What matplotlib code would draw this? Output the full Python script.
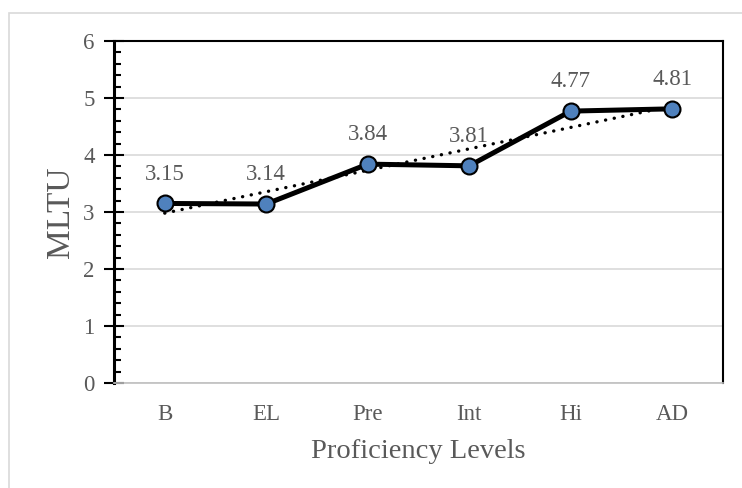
"""MLTU across proficiency levels, line chart with linear trendline."""
import matplotlib.pyplot as plt
import numpy as np
from matplotlib.patches import Rectangle

LEVELS = ["B", "EL", "Pre", "Int", "Hi", "AD"]
MLTU = [3.15, 3.14, 3.84, 3.81, 4.77, 4.81]

TEXT_GRAY = "#595959"
GRID_GRAY = "#d9d9d9"
MARKER_BLUE = "#4f81bd"

plt.rcParams["font.family"] = ["Liberation Serif", "DejaVu Serif"]

fig = plt.figure(figsize=(7.42, 4.88), dpi=100)
fig.patches.append(Rectangle((9 / 742, -0.1), 1.0, (488 - 13) / 488 + 0.1,
                             transform=fig.transFigure, fill=False,
                             edgecolor="#d9d9d9", linewidth=1.2))
ax = fig.add_axes([114 / 742, 105 / 488, 609 / 742, 342 / 488])

x = np.arange(len(LEVELS))
y = np.array(MLTU)

# linear trendline (least squares), as Excel draws it
slope, icpt = np.polyfit(x, y, 1)
ax.plot(x, slope * x + icpt, color="black", linestyle=(0, (0.05, 2.6)),
        linewidth=2.4, dash_capstyle="round", zorder=3)

ax.plot(x, y, color="black", linewidth=3.6, marker="o", markersize=11.5,
        markerfacecolor=MARKER_BLUE, markeredgecolor="black",
        markeredgewidth=1.5, zorder=4)

for xi, yi in zip(x, y):
    ax.annotate(f"{yi:.2f}", (xi, yi), xytext=(0, 21), textcoords="offset points",
                ha="center", va="center", fontsize=16.5, color=TEXT_GRAY)

ax.set_xlim(-0.5, len(LEVELS) - 0.5)
ax.set_ylim(0, 6)
ax.set_xticks(x)
ax.set_xticklabels(LEVELS)
ax.set_yticks(range(7))
ax.set_yticks(np.arange(0, 6.01, 0.2), minor=True)
ax.yaxis.grid(True, color=GRID_GRAY, linewidth=1.2)
ax.set_axisbelow(True)

ax.tick_params(axis="x", length=0, labelsize=16.5, labelcolor=TEXT_GRAY, pad=15)
ax.tick_params(axis="y", which="major", direction="inout", length=14, width=1.5,
               labelsize=16.5, labelcolor=TEXT_GRAY, pad=7)
ax.tick_params(axis="y", which="minor", direction="in", length=5, width=1.5)

for side in ("top", "right", "left"):
    ax.spines[side].set_color("black")
    ax.spines[side].set_linewidth(1.5)
ax.spines["left"].set_linewidth(2.2)
ax.spines["bottom"].set_color("#bfbfbf")
ax.spines["bottom"].set_linewidth(1.2)

ax.set_xlabel("Proficiency Levels", fontsize=20.5, color=TEXT_GRAY, labelpad=10)
ax.set_ylabel("MLTU", fontsize=24, color=TEXT_GRAY, labelpad=5)

fig.savefig("out.png", dpi=100)
